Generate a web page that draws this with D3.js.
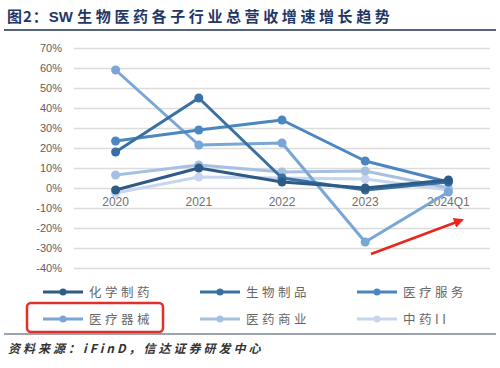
<!DOCTYPE html>
<html><head><meta charset="utf-8">
<script src="https://cdn.jsdelivr.net/npm/d3@7"></script>
<style>body{margin:0;background:#fff}svg{display:block}</style>
</head><body>
<svg id="c" width="500" height="368"></svg>
<script>
const categories = ["2020", "2021", "2022", "2023", "2024Q1"];
const seriesNames = ["化学制药", "生物制品", "医疗服务", "医疗器械", "医药商业", "中药II"];
const chem = [-1, 10, 3, 0, 4];
const bio = [18, 45, 5, -1, 3];
const service = [23.5, 29, 34, 13.5, 3];
const device = [59, 21.5, 22.5, -27, -2];
const commerce = [6.5, 11.5, 8, 8.5, 0];
const tcm = [-2.5, 5.5, 5, 4.5, -1];
const yTicks = [70, 60, 50, 40, 30, 20, 10, 0, -10, -20, -30, -40];
const colors = ["#2d5b86", "#3870a4", "#4b86c0", "#78a6d6", "#a7c0e2", "#c6d6ee"];
const seriesValues = [chem, bio, service, device, commerce, tcm];

const svg = d3.select("#c");
const x = d3.scaleBand().domain(categories).range([74, 490]);
const y = d3.scaleLinear().domain([-40, 70]).range([268, 48]);

// title
const t = svg.append("text").attr("x", 7).attr("y", 22)
  .attr("font-family", "Noto Sans CJK SC").attr("font-weight", "bold")
  .attr("font-size", 15).attr("fill", "#1f3767");
t.append("tspan").attr("letter-spacing", 1).text("图2：");
t.append("tspan").attr("font-family", "Liberation Sans").text("SW ");
t.append("tspan").attr("letter-spacing", 3.6).text("生物医药各子行业总营收增速增长趋势");
svg.append("line").attr("x1", 4).attr("x2", 496).attr("y1", 30).attr("y2", 30)
  .attr("stroke", "#55637d").attr("stroke-width", 2);

// y axis + grid
const ya = svg.append("g").attr("transform", "translate(74,0)")
  .call(d3.axisLeft(y).tickValues(yTicks).tickFormat(d => d + "%").tickSize(-416).tickPadding(12));
ya.select(".domain").remove();
ya.selectAll(".tick line").attr("stroke", "#dcdcdc").attr("stroke-width", 1.3);
ya.selectAll(".tick text").attr("font-family", "Liberation Sans").attr("font-size", 11).attr("fill", "#606060");

// x labels
const xa = svg.append("g").attr("transform", `translate(0,${y(0)})`)
  .call(d3.axisBottom(x).tickSize(0).tickPadding(9));
xa.select(".domain").remove();
xa.selectAll(".tick text").attr("font-family", "Liberation Sans").attr("font-size", 12).attr("fill", "#707070");

// lines
const line = d3.line().x((d, i) => x(categories[i]) + x.bandwidth() / 2).y(d => y(d));
for (let s = seriesValues.length - 1; s >= 0; s--) {
  const vals = seriesValues[s];
  svg.append("path").datum(vals).attr("d", line).attr("fill", "none")
    .attr("stroke", colors[s]).attr("stroke-width", 3).attr("stroke-linejoin", "round");
  svg.selectAll(null).data(vals).enter().append("circle")
    .attr("cx", (d, i) => x(categories[i]) + x.bandwidth() / 2).attr("cy", d => y(d))
    .attr("r", 4.5).attr("fill", colors[s]);
}

// red arrow
svg.append("defs").append("marker").attr("id", "ah").attr("viewBox", "0 0 10 10")
  .attr("refX", 8).attr("refY", 5).attr("markerWidth", 5).attr("markerHeight", 4).attr("orient", "auto")
  .append("path").attr("d", "M0,0L10,5L0,10z").attr("fill", "#e8261c");
svg.append("line").attr("x1", 371).attr("y1", 254).attr("x2", 462).attr("y2", 220)
  .attr("stroke", "#e8261c").attr("stroke-width", 2.5).attr("marker-end", "url(#ah)");

// legend
const legX = [43, 200, 357], legY = [292, 319];
seriesNames.forEach((n, i) => {
  const lx = legX[i % 3], ly = legY[Math.floor(i / 3)];
  svg.append("line").attr("x1", lx).attr("x2", lx + 40).attr("y1", ly).attr("y2", ly)
    .attr("stroke", colors[i]).attr("stroke-width", 3);
  svg.append("circle").attr("cx", lx + 20).attr("cy", ly).attr("r", 3.5).attr("fill", colors[i]);
  svg.append("text").attr("x", lx + 46).attr("y", ly + 4.5)
    .attr("font-family", "Noto Sans CJK SC").attr("font-size", 12.5).attr("letter-spacing", 3.5)
    .attr("fill", "#666").text(n);
});
svg.append("rect").attr("x", 27).attr("y", 303).attr("width", 136).attr("height", 29)
  .attr("rx", 4).attr("fill", "none").attr("stroke", "#e0302a").attr("stroke-width", 2.5);

// source
svg.append("line").attr("x1", 4).attr("x2", 496).attr("y1", 334).attr("y2", 334)
  .attr("stroke", "#7a8598").attr("stroke-width", 1.5);
svg.append("text").attr("x", 8).attr("y", 353)
  .attr("font-family", "Noto Sans CJK SC").attr("font-size", 12).attr("font-style", "italic")
  .attr("font-weight", "bold").attr("letter-spacing", 3).attr("fill", "#333")
  .text("资料来源：iFinD，信达证券研发中心");
</script>
</body></html>
